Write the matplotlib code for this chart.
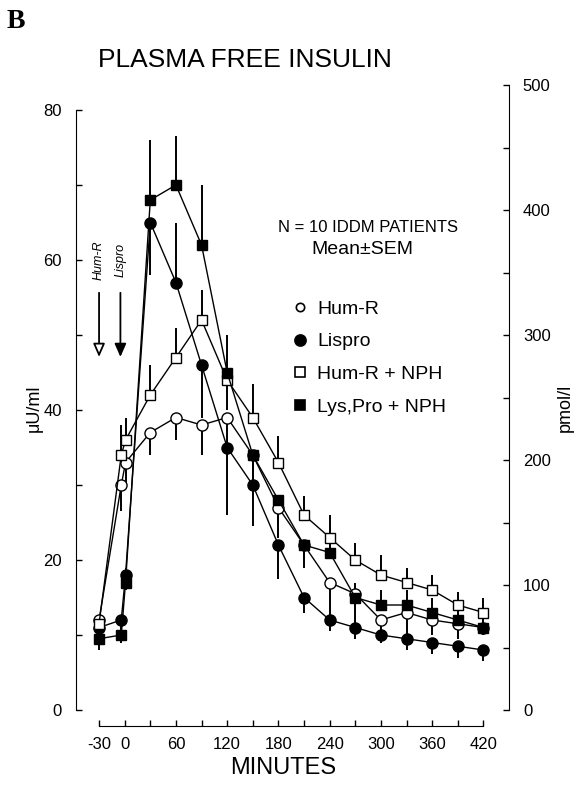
import numpy as np
import matplotlib.pyplot as plt
from matplotlib.lines import Line2D
from matplotlib.ticker import FixedLocator, MultipleLocator

plt.rcParams['font.family'] = ['Liberation Sans', 'DejaVu Sans']
plt.rcParams['axes.unicode_minus'] = False

# sampling times (minutes) and mean values (uU/ml), signed SEM (+ up, - down)
minutes = [-30, -4, 1, 30, 60, 90, 120, 150, 180, 210, 240, 270, 300, 330, 360, 390, 420]

hum_r = [12, 30, 33, 37, 39, 38, 39, 34, 27, 22, 17, 15.5, 12, 13, 12, 11.5, 11]
hum_r_err = [-1, -3.5, -3, -3, -3, -4, -4, -4, -4, -3, -5, -4, -2, -3, -2, -2, -1]

lispro = [11, 12, 18, 65, 57, 46, 35, 30, 22, 15, 12, 11, 10, 9.5, 9, 8.5, 8]
lispro_err = [-1, -1.5, -2, -7, 8, -7, -9, -5.5, -4.5, -2, -1.5, -1.5, -1, -1.5, -1.5, -1.5, -1.5]

hum_nph = [11.5, 34, 36, 42, 47, 52, 44, 39, 33, 26, 23, 20, 18, 17, 16, 14, 13]
hum_nph_err = [1, 4, 3, 4, 4, 4, -4, 4.5, 3.5, 2.5, 3, 2.3, 2.7, 2, 2, 1.7, 2]

lyspro_nph = [9.5, 10, 17, 68, 70, 62, 45, 34, 28, 22, 21, 15, 14, 14, 13, 12, 11]
lyspro_nph_err = [-1.5, -1, 2, 8, 6.5, 8, 5, -4, -3, -2, 2, 2, 2, 2, 2, 2, 1.5]

labels = ['Hum-R', 'Lispro', 'Hum-R + NPH', 'Lys,Pro + NPH']
series = [hum_r, lispro, hum_nph, lyspro_nph]
errors = [hum_r_err, lispro_err, hum_nph_err, lyspro_nph_err]
markers = ['o', 'o', 's', 's']
faces = ['white', 'black', 'white', 'black']

x_ticks = [-30, 0, 60, 120, 180, 240, 300, 360, 420]
x_minor = [30, 90, 150, 210, 270, 330, 390]

fig = plt.figure(figsize=(5.81, 7.98), dpi=100)
ax = fig.add_axes([76 / 581, 88 / 798, 433 / 581, 625 / 798])
ax.set_xlim(-57, 450)
ax.set_ylim(0, 500 / 6)

for vals, err, m, fc in zip(series, errors, markers, faces):
    err = np.array(err, dtype=float)
    lo = np.where(err < 0, -err, 0)
    hi = np.where(err > 0, err, 0)
    ax.errorbar(minutes, vals, yerr=[lo, hi], fmt='none', ecolor='black',
                elinewidth=1.4, capsize=0, zorder=2)
    ax.plot(minutes, vals, color='black', lw=1.0, marker=m, ms=8 if m == 'o' else 7.5,
            mfc=fc, mec='black', mew=1.0, zorder=3)

# spines and ticks
for s in ['top', 'right']:
    ax.spines[s].set_visible(False)
ax.spines['left'].set_bounds(0, 80)
ax.spines['bottom'].set_position(('outward', 11.5))
ax.spines['bottom'].set_bounds(-30, 420)
ax.xaxis.set_major_locator(FixedLocator(x_ticks))
ax.xaxis.set_minor_locator(FixedLocator(x_minor))
ax.yaxis.set_major_locator(FixedLocator([0, 20, 40, 60, 80]))
ax.yaxis.set_minor_locator(FixedLocator([10, 30, 50, 70]))
ax.tick_params(axis='x', which='both', direction='in', length=4.5, width=1, labelsize=12, pad=8)
ax.tick_params(axis='y', which='both', direction='in', length=4, width=1, labelsize=12, pad=10)

ax2 = ax.twinx()
ax2.set_ylim(0, 500)
for s in ['top', 'left', 'bottom']:
    ax2.spines[s].set_visible(False)
ax2.spines['right'].set_bounds(0, 500)
ax2.yaxis.set_major_locator(MultipleLocator(100))
ax2.yaxis.set_minor_locator(MultipleLocator(50))
ax2.tick_params(axis='y', which='both', direction='in', length=4, width=1, labelsize=12, pad=10)

# injection arrows
ax.annotate('', xy=(-30, 46.7), xytext=(-30, 56),
            arrowprops=dict(arrowstyle='-|>,head_length=0.8,head_width=0.35',
                            fc='white', ec='black', lw=1.3))
ax.annotate('', xy=(-5, 46.7), xytext=(-5, 56),
            arrowprops=dict(arrowstyle='-|>,head_length=0.8,head_width=0.35',
                            fc='black', ec='black', lw=1.3))
ax.text(-30, 60, 'Hum-R', rotation=90, style='italic', fontsize=9, ha='center', va='center')
ax.text(-5, 60, 'Lispro', rotation=90, style='italic', fontsize=9, ha='center', va='center')

# annotations
fig.text(368 / 581, 1 - 227 / 798, 'N = 10 IDDM PATIENTS', fontsize=12, ha='center', va='center')
fig.text(362 / 581, 1 - 249 / 798, 'Mean\u00b1SEM', fontsize=14, ha='center', va='center')

handles = [Line2D([], [], ls='none', marker=m, mfc=fc, mec='black', mew=1.2,
                  ms=(6 if i == 0 else 8) if m == 'o' else 7)
           for i, (m, fc) in enumerate(zip(markers, faces))]
fig.legend(handles, labels, loc='upper left', bbox_to_anchor=(292 / 581, 1 - 300 / 798),
           frameon=False, fontsize=14, borderpad=0, handlelength=0.8,
           handletextpad=0.5, labelspacing=0.78, borderaxespad=0)

fig.text(245 / 581, 1 - 60 / 798, 'PLASMA FREE INSULIN', fontsize=19, ha='center', va='center')
fig.text(283 / 581, 1 - 768 / 798, 'MINUTES', fontsize=17, ha='center', va='center')
fig.text(34 / 581, 1 - 408 / 798, '\u03bcU/ml', fontsize=13, rotation=90, ha='center', va='center')
fig.text(565 / 581, 1 - 408 / 798, 'pmol/l', fontsize=13, rotation=90, ha='center', va='center')
fig.text(7 / 581, 1 - 22 / 798, 'B', fontsize=20, fontweight='bold', family='Liberation Serif',
         ha='left', va='center')

fig.savefig('out.png', dpi=100)
